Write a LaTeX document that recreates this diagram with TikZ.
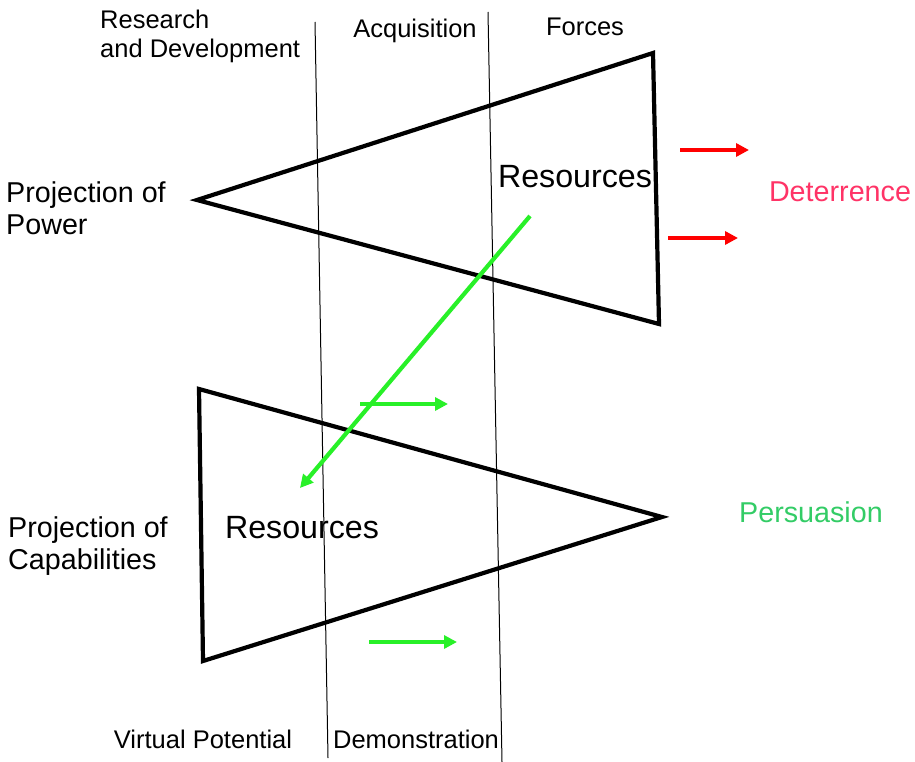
\documentclass[tikz,border=0pt]{standalone}
\usepackage{fontspec}
\setmainfont{Liberation Sans}
\usetikzlibrary{arrows.meta}
\definecolor{arrred}{RGB}{255,0,0}
\definecolor{arrgreen}{RGB}{40,240,40}
\definecolor{detcol}{RGB}{255,51,102}
\definecolor{percol}{RGB}{51,204,102}
\begin{document}
\begin{tikzpicture}[x=1pt,y=-1pt,
  tri/.style={line width=4.2pt,line join=miter},
  divider/.style={line width=1pt},
  redarrow/.style={draw=arrred,line width=4.2pt,-{Triangle[length=13pt,width=13pt]}},
  greenarrow/.style={draw=arrgreen,line width=4.2pt,-{Triangle[length=13pt,width=13pt]}},
  lbl/.style={inner sep=0pt,font=\fontsize{28.7}{32}\selectfont,align=left},
  hdr/.style={inner sep=0pt,font=\fontsize{25.5}{29}\selectfont,align=left},
  ftr/.style={inner sep=0pt,font=\fontsize{25.5}{29}\selectfont},
  res/.style={inner sep=0pt,font=\fontsize{32.2}{36}\selectfont}]
\useasboundingbox (0,0) rectangle (915,762);
% dividers
\coordinate (d1t) at (315,22); \coordinate (d1b) at (328,758);
\coordinate (d2t) at (488,12); \coordinate (d2b) at (502,762);
\draw[divider] (d1t) -- (d1b);
\draw[divider] (d2t) -- (d2b);
% triangles
\coordinate (ua) at (197,200); \coordinate (ut) at (653,53); \coordinate (ub) at (659,324);
\draw[tri] (ua) -- (ut) -- (ub) -- cycle;
\coordinate (lt) at (199,389); \coordinate (lb) at (203,661); \coordinate (la) at (662,517);
\draw[tri] (lt) -- (lb) -- (la) -- cycle;
% arrows
\coordinate (r1s) at (680,150); \coordinate (r1e) at (749,150);
\coordinate (r2s) at (668,238); \coordinate (r2e) at (738,238);
\draw[redarrow] (r1s) -- (r1e);
\draw[redarrow] (r2s) -- (r2e);
\coordinate (gls) at (530,216); \coordinate (gle) at (300,488);
\draw[greenarrow] (gls) -- (gle);
\coordinate (g1s) at (360,404); \coordinate (g1e) at (448,404);
\coordinate (g2s) at (369,642); \coordinate (g2e) at (457,642);
\draw[greenarrow] (g1s) -- (g1e);
\draw[greenarrow] (g2s) -- (g2e);
% texts
\node[hdr,anchor=west] (rd) at (100,36) {Research\\and Development};
\node[hdr] (acq) at (415,31) {Acquisition};
\node[hdr] (frc) at (585,27) {Forces};
\node[lbl,anchor=west] (pp) at (6,208) {Projection of\\Power};
\node[res] (res1) at (575,177) {Resources};
\node[lbl,text=detcol] (det) at (840,192) {Deterrence};
\node[lbl,text=percol] (per) at (811,512) {Persuasion};
\node[lbl,anchor=west] (pc) at (8,546) {Projection of\\Capabilities};
\node[res] (res2) at (302,528) {Resources};
\node[ftr] (vp) at (203,739) {Virtual Potential};
\node[ftr] (dem) at (416,739) {Demonstration};
\end{tikzpicture}
\end{document}
